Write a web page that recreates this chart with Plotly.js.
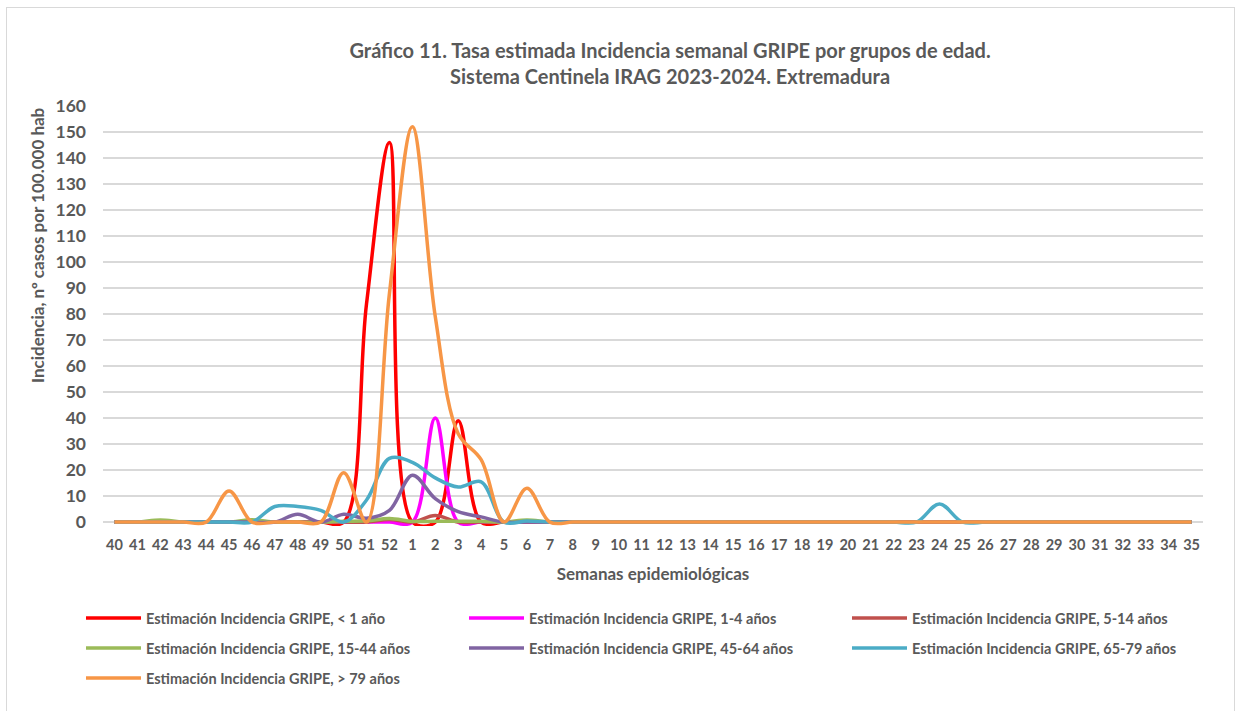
<!DOCTYPE html>
<html>
<head>
<meta charset="utf-8">
<script src="https://cdn.plot.ly/plotly-3.0.1.min.js"></script>
<style>
  html, body { margin: 0; padding: 0; background: #fff; }
  #wrap { position: absolute; left: 0; top: 0; width: 1237px; height: 711px; overflow: hidden; }
  #frame { position: absolute; left: 6px; top: 7px; width: 1229px; height: 720px; border: 1px solid #D9D9D9; box-sizing: border-box; pointer-events: none; }
  #chart { position: absolute; left: 0; top: 0; width: 1237px; height: 711px; }
</style>
</head>
<body>
<div id="wrap">
  <div id="chart"></div>
  <div id="frame"></div>
</div>
<script>
const weeks = ['40','41','42','43','44','45','46','47','48','49','50','51','52',
  '1','2','3','4','5','6','7','8','9','10','11','12','13','14','15','16','17','18','19','20',
  '21','22','23','24','25','26','27','28','29','30','31','32','33','34','35'];

//                40 41  42 43 44 45  46 47 48 49  50   51   52    1    2    3    4  5   6  7 ...
const lt1   = [0, 0, 0,  0, 0, 0,  0, 0, 0, 0,  0,  84, 146,   0,   0,  39,   0, 0,  0, 0, 0,0,0,0,0,0,0,0,0,0,0,0,0,0,0,0,0,0,0,0,0,0,0,0,0,0,0,0];
const a1_4  = [0, 0, 0,  0, 0, 0,  0, 0, 0, 0,  0,   0,   0,   0,  40,   0,   0, 0,  0, 0, 0,0,0,0,0,0,0,0,0,0,0,0,0,0,0,0,0,0,0,0,0,0,0,0,0,0,0,0];
const a5_14 = [0, 0, 0,  0, 0, 0,  0, 0, 0, 0,  0,   0,   1,   0, 2.5,   0,   0, 0,  0, 0, 0,0,0,0,0,0,0,0,0,0,0,0,0,0,0,0,0,0,0,0,0,0,0,0,0,0,0,0];
const a15_44= [0, 0, 0.8,0, 0, 0, 0.9, 0, 0, 0, 0.3, 0.5, 1.4, 0.3, 0.3, 0.3, 0.3, 0, 0.8, 0, 0,0,0,0,0,0,0,0,0,0,0,0,0,0,0,0,0,0,0,0,0,0,0,0,0,0,0,0];
const a45_64= [0, 0, 0,  0, 0, 0,  0, 0, 3, 0,  3, 1.5, 4.5,  18,   9,   4,   2, 0,  0, 0, 0,0,0,0,0,0,0,0,0,0,0,0,0,0,0,0,0,0,0,0,0,0,0,0,0,0,0,0];
const a65_79= [0, 0, 0,  0, 0, 0,  0, 6, 6, 4.5,0, 8.5,24.5,  23,  17,13.5,15.5, 0, 0.4, 0, 0,0,0,0,0,0,0,0,0,0,0,0,0,0,0,0,7,0,0,0,0,0,0,0,0,0,0,0];
const gt79  = [0, 0, 0,  0, 0,12,  0, 0, 0, 0, 19,   0,  88, 152,  79,  34,  24, 0, 13, 0, 0,0,0,0,0,0,0,0,0,0,0,0,0,0,0,0,0,0,0,0,0,0,0,0,0,0,0,0];

const names = [
  'Estimación Incidencia GRIPE, < 1 año',
  'Estimación Incidencia GRIPE, 1-4 años',
  'Estimación Incidencia GRIPE, 5-14 años',
  'Estimación Incidencia GRIPE, 15-44 años',
  'Estimación Incidencia GRIPE, 45-64 años',
  'Estimación Incidencia GRIPE, 65-79 años',
  'Estimación Incidencia GRIPE, > 79 años'
];
const series = [lt1, a1_4, a5_14, a15_44, a45_64, a65_79, gt79];
const colors = ['#FF0000', '#FF00FF', '#C0504D', '#9BBB59', '#8064A2', '#4BACC6', '#F79646'];
const legendRow = ['legend', 'legend', 'legend', 'legend2', 'legend2', 'legend2', 'legend3'];

const FONT = "Lato, 'Open Sans', sans-serif";
const GREY = '#595959';

const traces = series.map((s, i) => ({
  type: 'scatter',
  mode: 'lines',
  x: weeks,
  y: s,
  name: names[i],
  legend: legendRow[i],
  line: { color: colors[i], width: 3.5, shape: 'spline', smoothing: 1 },
  hoverinfo: 'x+y+name'
}));

function legendAt(y) {
  return {
    orientation: 'h',
    x: -0.02, xanchor: 'left',
    y: y, yanchor: 'middle',
    entrywidth: 313,
    entrywidthmode: 'pixels',
    itemwidth: 55,
    font: { family: FONT, size: 14.5, color: GREY, weight: 'bold' },
    bgcolor: 'rgba(0,0,0,0)'
  };
}

const layout = {
  width: 1237,
  height: 711,
  paper_bgcolor: 'rgba(0,0,0,0)',
  plot_bgcolor: '#fff',
  margin: { l: 103, r: 34, t: 106, b: 185 },
  font: { family: FONT, color: GREY },
  title: {
    text: '<b>Gráfico 11. Tasa estimada Incidencia semanal GRIPE por grupos de edad.<br>Sistema Centinela IRAG 2023-2024. Extremadura</b>',
    font: { family: FONT, size: 20, color: GREY },
    xref: 'container', x: 0.5417, xanchor: 'center',
    yref: 'container', y: 0.918, yanchor: 'middle'
  },
  xaxis: {
    type: 'category',
    range: [-0.5, 47.5],
    showgrid: false,
    zeroline: false,
    showline: false,
    ticks: '',
    ticklabelstandoff: 8,
    tickfont: { family: FONT, size: 14.5, color: GREY, weight: 'bold' },
    tickangle: 0,
    title: { text: '<b>Semanas epidemiológicas</b>', font: { family: FONT, size: 17, color: GREY }, standoff: 16 }
  },
  yaxis: {
    range: [-1.5, 160],
    tickvals: [0,10,20,30,40,50,60,70,80,90,100,110,120,130,140,150,160],
    showgrid: true,
    gridcolor: '#D9D9D9',
    gridwidth: 1.5,
    zeroline: false,
    showline: false,
    ticks: '',
    ticklabelstandoff: 16,
    tickfont: { family: FONT, size: 17.5, color: GREY, weight: 'bold' }
  },
  annotations: [{
    text: '<b>Incidencia, nº casos por 100.000 hab</b>',
    xref: 'paper', yref: 'paper',
    x: -0.06, y: 0.669,
    xanchor: 'center', yanchor: 'middle',
    textangle: -90,
    showarrow: false,
    font: { family: FONT, size: 17, color: GREY }
  }],
  showlegend: true,
  legend: legendAt(-0.219),
  legend2: legendAt(-0.2905),
  legend3: legendAt(-0.362)
};

Plotly.newPlot('chart', traces, layout, { displayModeBar: false });
</script>
</body>
</html>
